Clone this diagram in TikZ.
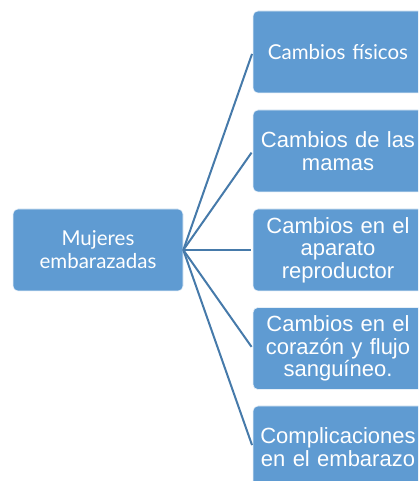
\documentclass[tikz,border=0pt]{standalone}
\usepackage{fontspec}
\setmainfont{Liberation Sans}
\newfontfamily\gillfont{Lato}
\definecolor{boxblue}{RGB}{95,155,210}
\definecolor{lineblue}{RGB}{70,122,170}
\begin{document}
\begin{tikzpicture}[x=1pt,y=1pt,
  bx/.style={draw=white!85!boxblue,line width=0.6pt,fill=boxblue,rounded corners=5pt,minimum width=170pt,minimum height=82pt,inner sep=0pt,text=white,align=center,text width=166pt},
  arial/.style={font=\fontsize{22}{22.5}\selectfont},
  gill/.style={font=\gillfont\fontsize{20.5}{23}\selectfont},
  conn/.style={draw=lineblue,line width=2pt,shorten >=2pt}]
\useasboundingbox (0,0) rectangle (418,481);
\clip (0,0) rectangle (418,481);
\node[bx,gill] (L) at (98,231) {Mujeres\\embarazadas};
\node[bx,gill] (R1) at (338,429) {Cambios físicos};
\node[bx,arial] (R2) at (338,330) {Cambios de las\\mamas};
\node[bx,arial] (R3) at (338,231) {Cambios en el\\aparato\\reproductor};
\node[bx,arial] (R4) at (338,132.5) {Cambios en el\\corazón y flujo\\sanguíneo.};
\node[bx,arial] (R5) at (338,34) {Complicaciones\\en el embarazo};
\foreach \r in {R1,R2,R3,R4,R5} \draw[conn] (L.east) -- (\r.west);
\end{tikzpicture}
\end{document}
